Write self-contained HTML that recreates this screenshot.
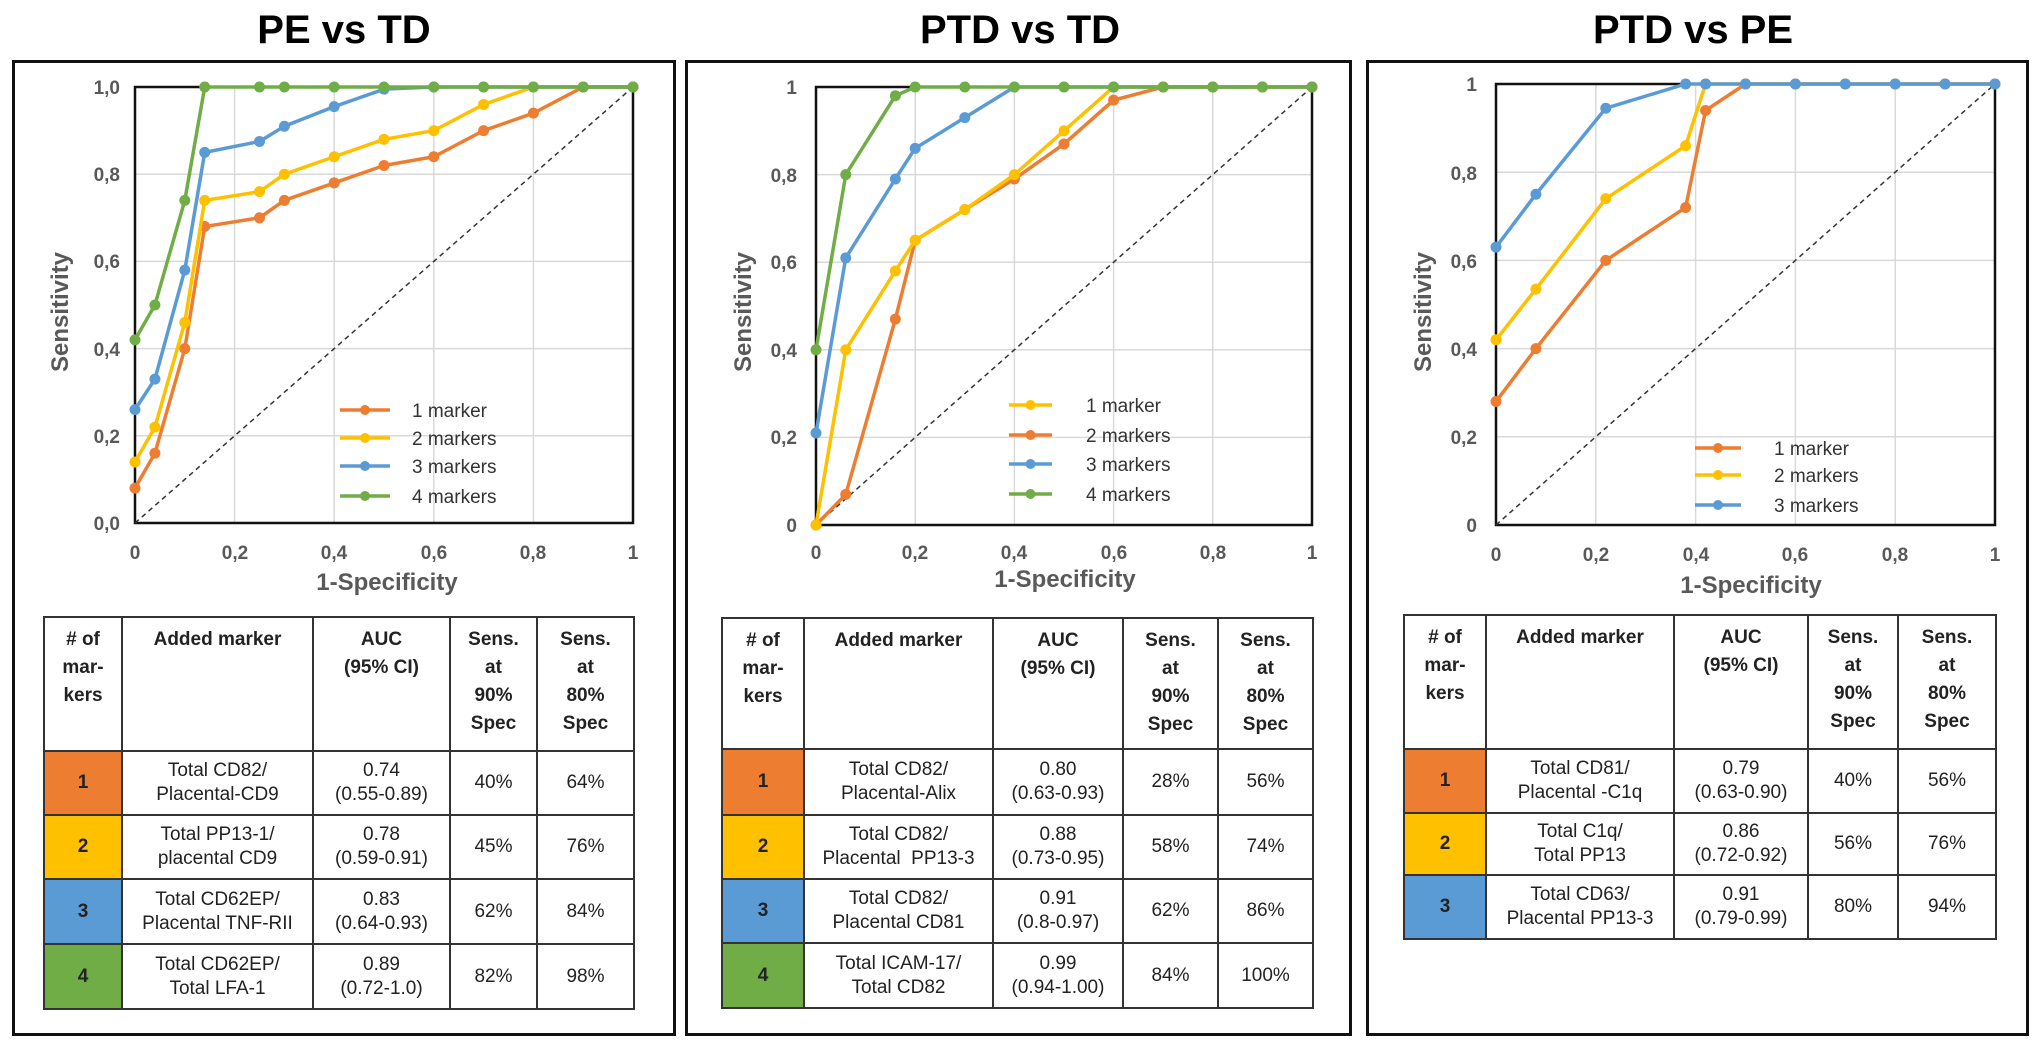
<!DOCTYPE html>
<html><head><meta charset="utf-8">
<style>
html,body{margin:0;padding:0;background:#fff;}
body{width:2037px;height:1041px;position:relative;overflow:hidden;font-family:"Liberation Sans",sans-serif;}
.panel{position:absolute;border:3px solid #111;box-sizing:border-box;}
.title{position:absolute;font-weight:bold;font-size:40px;color:#000;text-align:center;width:600px;top:8px;}
table{position:absolute;border-collapse:collapse;table-layout:fixed;font-size:19px;color:#222;}
td{border:2px solid #333;text-align:center;padding:0;line-height:24px;}
tr.h td{vertical-align:top;font-weight:bold;line-height:28px;padding-top:8px;}
td.n{font-weight:bold;color:#222;}
svg{position:absolute;left:0;top:0;}
</style></head><body>
<div class="title" style="left:44px">PE vs TD</div>
<div class="title" style="left:720px">PTD vs TD</div>
<div class="title" style="left:1393px">PTD vs PE</div>
<div class="panel" style="left:12px;top:60px;width:664px;height:976px"></div>
<div class="panel" style="left:685px;top:60px;width:667px;height:976px"></div>
<div class="panel" style="left:1366px;top:60px;width:663px;height:976px"></div>

<svg id="s" width="2037" height="1041" font-family="Liberation Sans, sans-serif">
<g id="g"></g>
<g font-weight="bold" fill="#595959" font-size="19">
<text x="120" y="94" text-anchor="end">1,0</text>
<text x="120" y="181" text-anchor="end">0,8</text>
<text x="120" y="268" text-anchor="end">0,6</text>
<text x="120" y="356" text-anchor="end">0,4</text>
<text x="120" y="443" text-anchor="end">0,2</text>
<text x="120" y="530" text-anchor="end">0,0</text>
<text x="135" y="559" text-anchor="middle">0</text>
<text x="235" y="559" text-anchor="middle">0,2</text>
<text x="334" y="559" text-anchor="middle">0,4</text>
<text x="434" y="559" text-anchor="middle">0,6</text>
<text x="533" y="559" text-anchor="middle">0,8</text>
<text x="633" y="559" text-anchor="middle">1</text>
<text x="387" y="590" text-anchor="middle" font-size="24">1-Specificity</text>
<text transform="translate(68,312) rotate(-90)" text-anchor="middle" font-size="24">Sensitivity</text>
<text x="797" y="94" text-anchor="end">1</text>
<text x="797" y="182" text-anchor="end">0,8</text>
<text x="797" y="269" text-anchor="end">0,6</text>
<text x="797" y="357" text-anchor="end">0,4</text>
<text x="797" y="444" text-anchor="end">0,2</text>
<text x="797" y="532" text-anchor="end">0</text>
<text x="816" y="559" text-anchor="middle">0</text>
<text x="915" y="559" text-anchor="middle">0,2</text>
<text x="1014" y="559" text-anchor="middle">0,4</text>
<text x="1114" y="559" text-anchor="middle">0,6</text>
<text x="1213" y="559" text-anchor="middle">0,8</text>
<text x="1312" y="559" text-anchor="middle">1</text>
<text x="1065" y="587" text-anchor="middle" font-size="24">1-Specificity</text>
<text transform="translate(751,312) rotate(-90)" text-anchor="middle" font-size="24">Sensitivity</text>
<text x="1477" y="91" text-anchor="end">1</text>
<text x="1477" y="180" text-anchor="end">0,8</text>
<text x="1477" y="268" text-anchor="end">0,6</text>
<text x="1477" y="356" text-anchor="end">0,4</text>
<text x="1477" y="444" text-anchor="end">0,2</text>
<text x="1477" y="532" text-anchor="end">0</text>
<text x="1496" y="561" text-anchor="middle">0</text>
<text x="1596" y="561" text-anchor="middle">0,2</text>
<text x="1696" y="561" text-anchor="middle">0,4</text>
<text x="1795" y="561" text-anchor="middle">0,6</text>
<text x="1895" y="561" text-anchor="middle">0,8</text>
<text x="1995" y="561" text-anchor="middle">1</text>
<text x="1751" y="593" text-anchor="middle" font-size="24">1-Specificity</text>
<text transform="translate(1431,312) rotate(-90)" text-anchor="middle" font-size="24">Sensitivity</text>
</g>
<g fill="#333" font-size="19">
<text x="412" y="417">1 marker</text>
<text x="412" y="445">2 markers</text>
<text x="412" y="473">3 markers</text>
<text x="412" y="503">4 markers</text>
<text x="1086" y="412">1 marker</text>
<text x="1086" y="442">2 markers</text>
<text x="1086" y="471">3 markers</text>
<text x="1086" y="501">4 markers</text>
<text x="1774" y="455">1 marker</text>
<text x="1774" y="482">2 markers</text>
<text x="1774" y="512">3 markers</text>
</g>
</svg>

<table style="left:43px;top:616px;width:590px">
<colgroup><col style="width:78px"><col style="width:191px"><col style="width:137px"><col style="width:87px"><col style="width:97px"></colgroup>
<tr class="h" style="height:134px"><td># of<br>mar-<br>kers</td><td>Added marker</td><td>AUC<br>(95% CI)</td><td>Sens.<br>at<br>90%<br>Spec</td><td>Sens.<br>at<br>80%<br>Spec</td></tr>
<tr style="height:64px"><td class="n" style="background:#ED7D31">1</td><td>Total CD82/<br>Placental-CD9</td><td>0.74<br>(0.55-0.89)</td><td>40%</td><td>64%</td></tr>
<tr style="height:64px"><td class="n" style="background:#FFC000">2</td><td>Total PP13-1/<br>placental CD9</td><td>0.78<br>(0.59-0.91)</td><td>45%</td><td>76%</td></tr>
<tr style="height:65px"><td class="n" style="background:#5B9BD5">3</td><td>Total CD62EP/<br>Placental TNF-RII</td><td>0.83<br>(0.64-0.93)</td><td>62%</td><td>84%</td></tr>
<tr style="height:65px"><td class="n" style="background:#70AD47">4</td><td>Total CD62EP/<br>Total LFA-1</td><td>0.89<br>(0.72-1.0)</td><td>82%</td><td>98%</td></tr>
</table>

<table style="left:721px;top:617px;width:591px">
<colgroup><col style="width:82px"><col style="width:189px"><col style="width:130px"><col style="width:95px"><col style="width:95px"></colgroup>
<tr class="h" style="height:131px"><td># of<br>mar-<br>kers</td><td>Added marker</td><td>AUC<br>(95% CI)</td><td>Sens.<br>at<br>90%<br>Spec</td><td>Sens.<br>at<br>80%<br>Spec</td></tr>
<tr style="height:66px"><td class="n" style="background:#ED7D31">1</td><td>Total CD82/<br>Placental-Alix</td><td>0.80<br>(0.63-0.93)</td><td>28%</td><td>56%</td></tr>
<tr style="height:64px"><td class="n" style="background:#FFC000">2</td><td>Total CD82/<br>Placental&nbsp; PP13-3</td><td>0.88<br>(0.73-0.95)</td><td>58%</td><td>74%</td></tr>
<tr style="height:64px"><td class="n" style="background:#5B9BD5">3</td><td>Total CD82/<br>Placental CD81</td><td>0.91<br>(0.8-0.97)</td><td>62%</td><td>86%</td></tr>
<tr style="height:65px"><td class="n" style="background:#70AD47">4</td><td>Total ICAM-17/<br>Total CD82</td><td>0.99<br>(0.94-1.00)</td><td>84%</td><td>100%</td></tr>
</table>

<table style="left:1403px;top:614px;width:592px">
<colgroup><col style="width:82px"><col style="width:188px"><col style="width:134px"><col style="width:90px"><col style="width:98px"></colgroup>
<tr class="h" style="height:134px"><td># of<br>mar-<br>kers</td><td>Added marker</td><td>AUC<br>(95% CI)</td><td>Sens.<br>at<br>90%<br>Spec</td><td>Sens.<br>at<br>80%<br>Spec</td></tr>
<tr style="height:64px"><td class="n" style="background:#ED7D31">1</td><td>Total CD81/<br>Placental -C1q</td><td>0.79<br>(0.63-0.90)</td><td>40%</td><td>56%</td></tr>
<tr style="height:62px"><td class="n" style="background:#FFC000">2</td><td>Total C1q/<br>Total PP13</td><td>0.86<br>(0.72-0.92)</td><td>56%</td><td>76%</td></tr>
<tr style="height:64px"><td class="n" style="background:#5B9BD5">3</td><td>Total CD63/<br>Placental PP13-3</td><td>0.91<br>(0.79-0.99)</td><td>80%</td><td>94%</td></tr>
</table>

<script>
var O='#ED7D31',Y='#FFC000',B='#5B9BD5',G='#70AD47';
var charts=[
{x0:135,x1:633,y0:523,y1:87,leg:[[410,O],[438,Y],[466,B],[496,G]],lx:[340,390],
 s:[[O,[[0,.08],[.04,.16],[.1,.4],[.14,.68],[.25,.70],[.3,.74],[.4,.78],[.5,.82],[.6,.84],[.7,.90],[.8,.94],[.9,1],[1,1]]],
    [Y,[[0,.14],[.04,.22],[.1,.46],[.14,.74],[.25,.76],[.3,.80],[.4,.84],[.5,.88],[.6,.90],[.7,.96],[.8,1],[.9,1],[1,1]]],
    [B,[[0,.26],[.04,.33],[.1,.58],[.14,.85],[.25,.875],[.3,.91],[.4,.955],[.5,.995],[.6,1],[.7,1],[.8,1],[.9,1],[1,1]]],
    [G,[[0,.42],[.04,.5],[.1,.74],[.14,1],[.25,1],[.3,1],[.4,1],[.5,1],[.6,1],[.7,1],[.8,1],[.9,1],[1,1]]]]},
{x0:816,x1:1312,y0:525,y1:87,leg:[[405,Y],[435,O],[464,B],[494,G]],lx:[1009,1052],
 s:[[O,[[0,0],[.06,.07],[.16,.47],[.2,.65],[.3,.72],[.4,.79],[.5,.87],[.6,.97],[.7,1],[.8,1],[.9,1],[1,1]]],
    [Y,[[0,0],[.06,.4],[.16,.58],[.2,.65],[.3,.72],[.4,.8],[.5,.9],[.6,1],[.7,1],[.8,1],[.9,1],[1,1]]],
    [B,[[0,.21],[.06,.61],[.16,.79],[.2,.86],[.3,.93],[.4,1],[.5,1],[.6,1],[.7,1],[.8,1],[.9,1],[1,1]]],
    [G,[[0,.4],[.06,.8],[.16,.98],[.2,1],[.3,1],[.4,1],[.5,1],[.6,1],[.7,1],[.8,1],[.9,1],[1,1]]]]},
{x0:1496,x1:1995,y0:525,y1:84,leg:[[448,O],[475,Y],[505,B]],lx:[1695,1741],
 s:[[O,[[0,.28],[.08,.4],[.22,.6],[.38,.72],[.42,.94],[.5,1],[.6,1],[.7,1],[.8,1],[.9,1],[1,1]]],
    [Y,[[0,.42],[.08,.535],[.22,.74],[.38,.86],[.42,1],[.5,1],[.6,1],[.7,1],[.8,1],[.9,1],[1,1]]],
    [B,[[0,.63],[.08,.75],[.22,.945],[.38,1],[.42,1],[.5,1],[.6,1],[.7,1],[.8,1],[.9,1],[1,1]]]]}
];
var h='';
charts.forEach(function(c){
 function X(v){return c.x0+(c.x1-c.x0)*v}
 function Yy(v){return c.y0+(c.y1-c.y0)*v}
 for(var i=1;i<5;i++){var t=i*.2;
  h+='<line x1="'+X(t)+'" y1="'+c.y1+'" x2="'+X(t)+'" y2="'+c.y0+'" stroke="#d9d9d9" stroke-width="1.5"/>';
  h+='<line x1="'+c.x0+'" y1="'+Yy(t)+'" x2="'+c.x1+'" y2="'+Yy(t)+'" stroke="#d9d9d9" stroke-width="1.5"/>';}
 h+='<rect x="'+c.x0+'" y="'+c.y1+'" width="'+(c.x1-c.x0)+'" height="'+(c.y0-c.y1)+'" fill="none" stroke="#111" stroke-width="2.5"/>';
 h+='<line x1="'+c.x0+'" y1="'+c.y0+'" x2="'+c.x1+'" y2="'+c.y1+'" stroke="#333" stroke-width="1.5" stroke-dasharray="5,4"/>';
 c.s.forEach(function(s){
  var p=s[1].map(function(q){return X(q[0])+','+Yy(q[1])}).join(' ');
  h+='<polyline points="'+p+'" fill="none" stroke="'+s[0]+'" stroke-width="3.5"/>';
  s[1].forEach(function(q){h+='<circle cx="'+X(q[0])+'" cy="'+Yy(q[1])+'" r="5.5" fill="'+s[0]+'"/>';});
 });
 c.leg.forEach(function(l){
  h+='<line x1="'+c.lx[0]+'" y1="'+l[0]+'" x2="'+c.lx[1]+'" y2="'+l[0]+'" stroke="'+l[1]+'" stroke-width="3.5"/>';
  h+='<circle cx="'+(c.lx[0]+c.lx[1])/2+'" cy="'+l[0]+'" r="5" fill="'+l[1]+'"/>';
 });
});
document.getElementById('g').innerHTML=h;
</script>
</body></html>
